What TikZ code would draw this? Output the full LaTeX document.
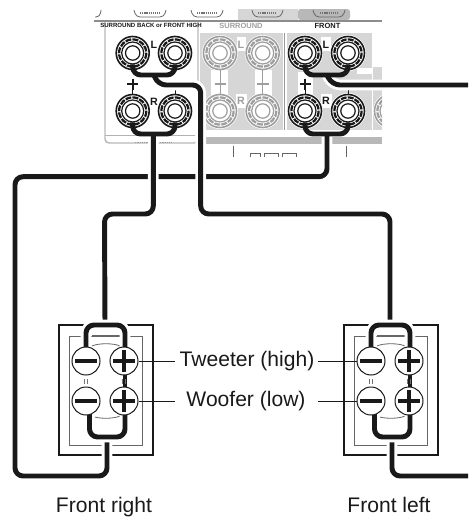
\documentclass[tikz,border=0pt]{standalone}
\usepackage{fontspec}
\setmainfont{Liberation Sans}
\usetikzlibrary{calc}
\definecolor{panelgrey}{gray}{0.84}
\definecolor{midgrey}{gray}{0.72}
\definecolor{lightpost}{gray}{0.62}
\definecolor{ink}{gray}{0.1}
\tikzset{
  wire/.style={line width=3.7pt,ink,rounded corners=6pt,line join=round,preaction={draw,white,line width=8pt}},
  bridge/.style={line width=3.7pt,ink,rounded corners=6pt,line join=round},
  leader/.style={line width=0.75pt,ink},
  label/.style={font=\fontsize{15.8}{18}\selectfont,inner sep=0pt,anchor=base,text=ink},
  term/.style={circle,draw=ink,line width=0.75pt,fill=white,minimum size=21pt,inner sep=0pt},
  spkouter/.style={draw=ink,line width=2pt},
  spkinner/.style={draw=black!60,line width=0.6pt},
  pinmark/.style={black!55,line width=0.45pt},
  postbase/.style={circle,minimum size=25.5pt,inner sep=0pt},
  bracket/.style={black!60,line width=0.6pt,rounded corners=3pt},
  postletter/.style={font=\bfseries\fontsize{8}{9}\selectfont,inner sep=0pt},
}
% binding post: name, x, y, colour
\newcommand{\bindpost}[4]{%
  \node[postbase] (#1) at (#2,#3) {};
  \fill[white] (#2,#3) circle[radius=18];
  \draw[#4,line width=1.2pt] (#2,#3) circle[radius=16.5];
  \draw[#4,line width=1.7pt,dash pattern=on 4.4pt off 0.9pt] (#2,#3) circle[radius=13.6];
  \draw[#4,line width=0.9pt] (#2,#3) circle[radius=11];
  \draw[#4,line width=0.9pt] (#2,#3) circle[radius=7.2];
}
% speaker body: prefix, x offset
\newcommand{\speaker}[2]{%
  \begin{scope}[xshift=#2*0.75pt]
    \draw[spkouter] (59,325) rectangle (153,455);
    \draw[spkinner] (69,336) rectangle (142,445);
    \draw[spkinner] (92,335) -- (120,335);
    \draw[spkinner] (92,346) .. controls (98,343) and (114,343) .. (120,346);
    \draw[spkinner] (92,416) .. controls (98,419) and (114,419) .. (120,416);
    \coordinate (#1top) at (105,325);
    \coordinate (#1bot) at (107,437);
    \coordinate (#1a) at (86,361);
    \coordinate (#1b) at (125,361);
    \coordinate (#1c) at (89.5,401);
    \coordinate (#1d) at (125,401);
  \end{scope}
}
\newcommand{\speakertop}[2]{%
  \begin{scope}[xshift=#2*0.75pt]
    \draw[pinmark] (84.5,379) -- (84.5,384) (87.5,379) -- (87.5,384);
    \draw[pinmark] (122.5,379) -- (122.5,384) (125.5,379) -- (125.5,384);
    \node[term] (#1A) at (86,361) {};
    \node[term] (#1B) at (124,361) {};
    \node[term] (#1C) at (86,401) {};
    \node[term] (#1D) at (124,401) {};
    \draw[ink,line width=2.7pt] (75,361) -- (97,361) (75,401) -- (97,401);
    \draw[ink,line width=2.7pt] (113,361) -- (135,361) (124,350) -- (124,372);
    \draw[ink,line width=2.7pt] (113,401) -- (135,401) (124,390) -- (124,412);
  \end{scope}
}
\begin{document}
\begin{tikzpicture}[x=0.75pt,y=-0.75pt]
\useasboundingbox (0,0) rectangle (468,518);
% --- receiver panel ---
\fill[panelgrey] (238,9) rectangle (298,20);
\fill[midgrey,rounded corners=2pt] (298,9) -- (298,20) -- (350,20) -- (350,9) -- cycle;
\draw[black!45,line width=1pt] (94,21) -- (382,21);
\fill[panelgrey] (200,33) rectangle (283,130);
\fill[panelgrey] (287,33) rectangle (372,130);
\fill[panelgrey] (373,67) rectangle (382,130);
% white label patches
\fill[white] (211,70) rectangle (228,96);
\fill[white] (255,70) rectangle (272,96);
\fill[white] (237,37) rectangle (246,51);
\fill[white] (236,94) rectangle (247,108);
\fill[white] (298,72) rectangle (313,96);
\fill[white] (321,37) rectangle (331,51);
\fill[white] (321,94) rectangle (332,108);
\fill[white] (357,68) rectangle (372,74);
\fill[midgrey] (206,137) rectangle (382,144);
\draw[black!40,line width=0.5pt] (284.7,33) -- (284.7,130);
\draw[midgrey,line width=1.1pt,rounded corners=3pt] (105,22) -- (105,143) -- (198,143) -- (198,22);
\draw[black!30,line width=0.4pt] (105,135) -- (195,135);
\draw[black!40,line width=0.5pt,dash pattern=on 1pt off 0.7pt] (135,142) -- (148,142) (160,142) -- (172,142);
% top brackets
\draw[bracket] (101,10) -- (100,17) -- (95,17);
\draw[bracket] (134,10) -- (136,17) -- (164,17) -- (166,10);
\draw[bracket] (191,10) -- (193,17) -- (221,17) -- (223,10);
\draw[bracket] (252,10) -- (254,17) -- (281,17) -- (283,10);
\draw[bracket] (313,10) -- (315,17) -- (343,17) -- (345,10);
\foreach \q/\w in {140/160,197/217,258/277,320/339}
  \draw[black!55,line width=1pt,dash pattern=on 1pt off 0.6pt] (\q,13) -- (\w,13);
% lower bracket shapes
\draw[black!60,line width=0.7pt] (233,157) -- (233,146) (346,157) -- (346,146);
\draw[black!60,line width=0.7pt] (250,157) -- (250,153) -- (260,153) -- (260,157)
  (264,157) -- (264,153) -- (278,153) -- (278,157) (282,157) -- (282,153) -- (296,153) -- (296,157);
% panel texts
\node[inner sep=0pt,font=\bfseries\fontsize{4.55}{6}\selectfont,text=ink] (tsb) at (151,25.5) {SURROUND BACK or FRONT HIGH};
\node[inner sep=0pt,text=lightpost,font=\bfseries\fontsize{5.6}{6}\selectfont] (tsu) at (241,25.5) {SURROUND};
\node[inner sep=0pt,font=\bfseries\fontsize{5.6}{6}\selectfont,text=ink] (tfr) at (327.5,25.5) {FRONT};
% --- posts ---
\bindpost{sbLa}{132.7}{53}{ink}
\bindpost{sbLb}{175}{53}{ink}
\bindpost{sbRa}{132.7}{111}{ink}
\bindpost{sbRb}{175}{111}{ink}
\bindpost{suLa}{220}{53}{lightpost}
\bindpost{suLb}{262.7}{53}{lightpost}
\bindpost{suRa}{220}{111}{lightpost}
\bindpost{suRb}{262.7}{111}{lightpost}
\bindpost{frLa}{305}{53}{ink}
\bindpost{frLb}{348}{53}{ink}
\bindpost{frRa}{305}{111}{ink}
\bindpost{frRb}{348}{111}{ink}
\begin{scope}
  \clip (373,90) rectangle (382,135);
  \bindpost{xtra}{391}{111}{lightpost}
\end{scope}
% post letters and marks
\node[postletter,text=ink] (ll1) at (154,45) {L};
\node[postletter,text=ink] (rr1) at (154,102) {R};
\node[postletter,text=lightpost] (ll2) at (241,45) {L};
\node[postletter,text=lightpost] (rr2) at (241,101) {R};
\node[postletter,text=ink] (ll3) at (326,45) {L};
\node[postletter,text=ink] (rr3) at (326,101) {R};
\draw[ink,line width=0.7pt] (132.5,89) -- (132.5,95);
\draw[ink,line width=1.5pt] (127,84) -- (138,84) (132.5,78.5) -- (132.5,89.5);
\draw[ink,line width=0.7pt] (175,90) -- (175,95);
\draw[lightpost,line width=0.7pt] (220,70) -- (220,95);
\draw[lightpost,line width=1.5pt] (214.5,84) -- (225.5,84);
\draw[lightpost,line width=0.7pt] (262.7,70) -- (262.7,95);
\draw[lightpost,line width=1.5pt] (257,84) -- (268.5,84);
\draw[ink,line width=0.7pt] (305,89) -- (305,95);
\draw[ink,line width=1.5pt] (299.5,84) -- (310.5,84) (305,78.5) -- (305,89.5);
\draw[ink,line width=0.7pt] (348,90) -- (348,95);
% --- speakers base ---
\speaker{r}{0}
\speaker{l}{285}
% --- wire coordinates ---
\coordinate (sbLbar) at (154,75);
\coordinate (sbRbar) at (153.3,134);
\coordinate (frLbar) at (327,75);
\coordinate (frRbar) at (327,134);
\coordinate (outR) at (468,85);
\coordinate (outB) at (468,476);
% cables from the panel to the speakers
\draw[wire] (frRbar) -- (327,176.7) -- (15,176.7) -- (15,476) -- (107,476) -- (rbot);
\draw[wire] (sbRbar) -- (153.3,214) -- (104.5,214) -- (rtop);
\draw[wire] (sbLbar) -- (158,85) -- (200.7,85) -- (200.7,214) -- (390,214) -- (ltop);
\draw[wire] (frLbar) -- (332,85) -- (outR);
\draw[wire] (lbot) -- (392,476) -- (outB);
% post bridges
\draw[bridge] ([yshift=4.5pt]sbLa.south) |- (sbLbar) -| ([yshift=4.5pt]sbLb.south);
\draw[bridge] ([yshift=4.5pt]sbRa.south) |- (sbRbar) -| ([yshift=4.5pt]sbRb.south);
\draw[bridge] ([yshift=4.5pt]frLa.south) |- (frLbar) -| ([yshift=4.5pt]frLb.south);
\draw[bridge] ([yshift=4.5pt]frRa.south) |- (frRbar) -| ([yshift=4.5pt]frRb.south);
% speaker bridges
\draw[wire] (ra) |- (rtop) -| (rb);
\draw[wire] (rc) |- (rbot) -| (rd);
\draw[wire] (la) |- (ltop) -| (lb);
\draw[wire] (lc) |- (lbot) -| (ld);
\draw[bridge] (rb) -- (rd);
\draw[bridge] (lb) -- (ld);
\speakertop{R}{0}
\speakertop{L}{285}
% --- labels ---
\node[label] (tw) at (247,366.5) {Tweeter (high)};
\node[label] (wf) at (246,406.5) {Woofer (low)};
\node[label] (fr) at (104,512.5) {Front right};
\node[label] (fl) at (389,512.5) {Front left};
\draw[leader] (RB.east) -- (175,361);
\draw[leader] (318,361) -- (LA.west);
\draw[leader] (RD.east) -- (175,401);
\draw[leader] (318,401) -- (LC.west);
\end{tikzpicture}
\end{document}
